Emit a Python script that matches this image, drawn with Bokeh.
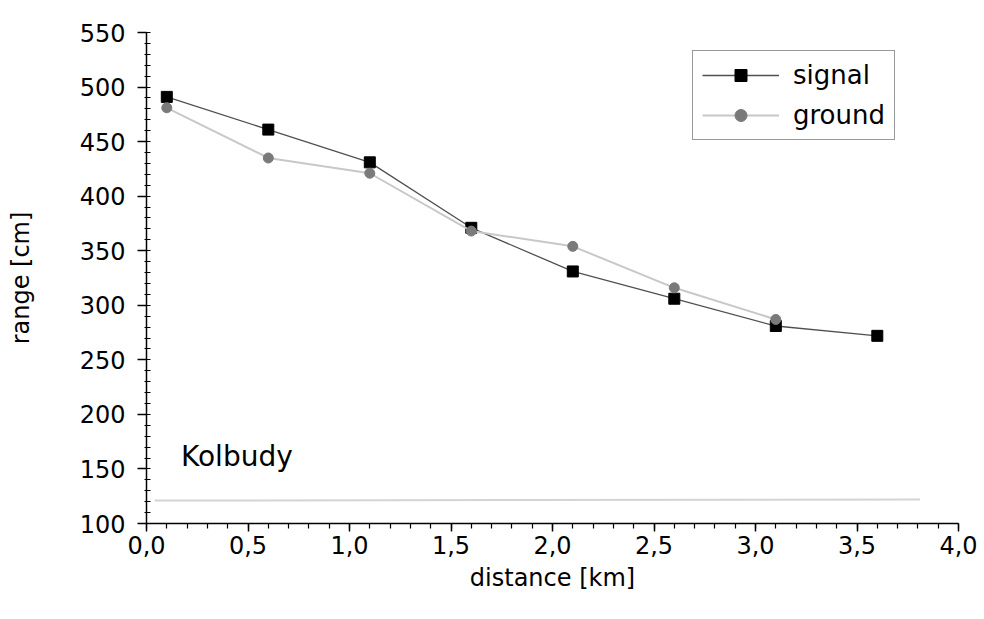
from bokeh.plotting import figure
from bokeh.models import Range1d, Legend, LegendItem, FixedTicker, CustomJSTickFormatter, Label
from bokeh.embed import file_html
from bokeh.resources import INLINE

distance_signal = [0.1, 0.6, 1.1, 1.6, 2.1, 2.6, 3.1, 3.6]
range_signal = [491, 461, 431, 371, 331, 306, 281, 272]
distance_ground = [0.1, 0.6, 1.1, 1.6, 2.1, 2.6, 3.1]
range_ground = [481, 435, 421, 368, 354, 316, 287]
x_ticks = [0.0, 0.5, 1.0, 1.5, 2.0, 2.5, 3.0, 3.5, 4.0]
y_ticks = [100, 150, 200, 250, 300, 350, 400, 450, 500, 550]
baseline_x = [0.04, 3.81]
baseline_y = [121, 122]

FONT = "DejaVu Sans"

p = figure(width=984, height=619, output_backend="svg", toolbar_location=None,
           x_range=Range1d(0, 4.0), y_range=Range1d(100, 550),
           min_border_left=146, min_border_right=26, min_border_top=32, min_border_bottom=96)
p.outline_line_color = None
p.grid.visible = False
p.background_fill_color = "white"
p.border_fill_color = "white"

# faint scan line
p.line(baseline_x, baseline_y, line_color="#d4d4d4", line_width=2)

sl = p.line(distance_signal, range_signal, line_color="#505050", line_width=1.3)
ss = p.scatter(distance_signal, range_signal, marker="square", size=11,
               fill_color="black", line_color="black")
gl = p.line(distance_ground, range_ground, line_color="#c8c8c8", line_width=2)
gs = p.scatter(distance_ground, range_ground, marker="circle", size=10,
               fill_color="#7a7a7a", line_color="#7a7a7a")

for ax in (p.xaxis[0], p.yaxis[0]):
    ax.axis_line_color = "black"
    ax.axis_line_width = 1.5
    ax.major_tick_line_color = "black"
    ax.minor_tick_line_color = "black"
    ax.major_tick_line_width = 1.5
    ax.minor_tick_line_width = 1.2
    ax.major_label_text_font = FONT
    ax.major_label_text_font_size = "24px"
    ax.major_label_text_color = "black"
    ax.axis_label_text_font = FONT
    ax.axis_label_text_font_size = "24px"
    ax.axis_label_text_font_style = "normal"
    ax.axis_label_text_color = "black"

p.xaxis.ticker = FixedTicker(ticks=x_ticks, minor_ticks=[i / 10 for i in range(41)])
p.xaxis.formatter = CustomJSTickFormatter(code="return tick.toFixed(1).replace('.', ',');")
p.xaxis.major_tick_out = 8
p.xaxis.major_tick_in = 0
p.xaxis.minor_tick_out = 5
p.xaxis.minor_tick_in = 0
p.xaxis.axis_label = "distance [km]"
p.xaxis.major_label_standoff = 4
p.xaxis.axis_label_standoff = 7

p.yaxis.ticker = FixedTicker(ticks=y_ticks, minor_ticks=list(range(100, 551, 10)))
p.yaxis.major_tick_out = 9
p.yaxis.major_tick_in = 0
p.yaxis.minor_tick_out = 2
p.yaxis.minor_tick_in = 4
p.yaxis.axis_label = "range [cm]"
p.yaxis.major_label_standoff = 12
p.yaxis.axis_label_standoff = 42

p.add_layout(Label(x=0.17, y=161, text="Kolbudy", text_font=FONT, text_font_size="28px",
                   text_baseline="middle", text_align="left", text_color="black"))

legend = Legend(items=[LegendItem(label="signal", renderers=[sl, ss]),
                       LegendItem(label="ground", renderers=[gl, gs])],
                location=(546, 383))
legend.border_line_color = "#333333"
legend.border_line_width = 1.2
legend.background_fill_alpha = 1.0
legend.label_text_font = FONT
legend.label_text_font_size = "26px"
legend.label_text_color = "black"
legend.glyph_width = 77
legend.glyph_height = 30
legend.label_height = 30
legend.spacing = 10
legend.padding = 9
legend.margin = 0
legend.label_standoff = 14
p.add_layout(legend)

open("out.html", "w").write(file_html(p, INLINE))
